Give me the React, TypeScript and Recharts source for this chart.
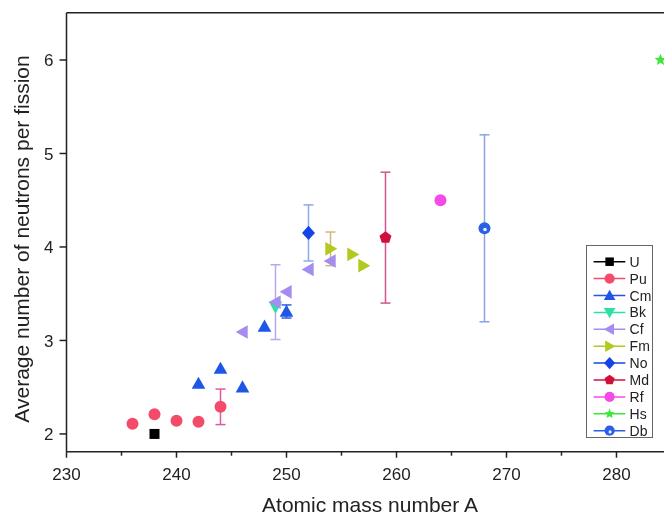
import React from 'react';
import { ScatterChart, Scatter, XAxis, YAxis, ErrorBar, Legend, ReferenceLine } from 'recharts';

// ---- data (A, average neutrons, optional error) ----
const uData = [{ a: 238, v: 2.0 }];
const puData = [
  { a: 236, v: 2.11 },
  { a: 238, v: 2.21 },
  { a: 240, v: 2.14 },
  { a: 242, v: 2.13 },
  { a: 244, v: 2.29, err: 0.19 },
];
const cmData = [
  { a: 242, v: 2.54 },
  { a: 244, v: 2.7 },
  { a: 246, v: 2.5 },
  { a: 248, v: 3.15 },
  { a: 250, v: 3.31, err: 0.07 },
];
const bkData = [{ a: 249, v: 3.36 }];
const cfData = [
  { a: 246, v: 3.09 },
  { a: 249, v: 3.41, err: 0.4 },
  { a: 250, v: 3.52 },
  { a: 252, v: 3.76 },
  { a: 254, v: 3.85 },
];
const fmData = [
  { a: 254, v: 3.98, err: 0.18 },
  { a: 256, v: 3.92 },
  { a: 257, v: 3.8 },
];
const noData = [{ a: 252, v: 4.15, err: 0.3 }];
const mdData = [{ a: 259, v: 4.1, err: 0.7 }];
const rfData = [{ a: 264, v: 4.5 }];
const hsData = [{ a: 284, v: 6.0 }];
const dbData = [{ a: 268, v: 4.2, err: 1.0 }];

const seriesNames = ['U', 'Pu', 'Cm', 'Bk', 'Cf', 'Fm', 'No', 'Md', 'Rf', 'Hs', 'Db'];
const xTicks = [230, 235, 240, 245, 250, 255, 260, 265, 270, 275, 280];
const yTicks = [2, 3, 4, 5, 6];

// ---- layout / style ----
const W = 656;
const H = 510;
const X_MIN = 230;
const X_MAX = 284.32;
const Y_MIN = 1.81;
const Y_MAX = 6.506;
const FONT = '"Liberation Sans", Arial, Helvetica, sans-serif';
const AX = '#222';

const styles: Record<string, { kind: string; color: string; size: number; err: string }> = {
  U: { kind: 'square', color: '#000000', size: 5, err: '#000000' },
  Pu: { kind: 'circle', color: '#f44b6b', size: 6, err: '#e0589e' },
  Cm: { kind: 'up', color: '#1e56e8', size: 6.5, err: '#3060e0' },
  Bk: { kind: 'down', color: '#2ee0a6', size: 6.5, err: '#2ee0a6' },
  Cf: { kind: 'left', color: '#a58cf0', size: 6.5, err: '#bca6f0' },
  Fm: { kind: 'right', color: '#b4c81e', size: 6.5, err: '#d0b878' },
  No: { kind: 'diamond', color: '#1544e6', size: 6.5, err: '#8ca8ec' },
  Md: { kind: 'pentagon', color: '#d0103c', size: 6.3, err: '#d2558e' },
  Rf: { kind: 'circle', color: '#f64ae6', size: 6, err: '#f64ae6' },
  Hs: { kind: 'star', color: '#3ee63e', size: 6.2, err: '#3ee63e' },
  Db: { kind: 'db', color: '#2a5fe8', size: 6, err: '#8aa2e6' },
};

const dataByName: Record<string, any[]> = {
  U: uData, Pu: puData, Cm: cmData, Bk: bkData, Cf: cfData, Fm: fmData,
  No: noData, Md: mdData, Rf: rfData, Hs: hsData, Db: dbData,
};

function pts(arr: number[][]) {
  return arr.map((p) => `${p[0]},${p[1]}`).join(' ');
}

function Marker({ kind, color, cx, cy, s }: { kind: string; color: string; cx: number; cy: number; s: number }) {
  switch (kind) {
    case 'square':
      return <rect x={cx - s} y={cy - s} width={2 * s} height={2 * s} fill={color} />;
    case 'circle':
      return <circle cx={cx} cy={cy} r={s} fill={color} />;
    case 'db':
      return (
        <g>
          <circle cx={cx} cy={cy} r={s} fill={color} />
          <circle cx={cx + 0.5} cy={cy + 1.2} r={s * 0.3} fill="#e8f0ff" />
        </g>
      );
    case 'up':
      return <polygon points={pts([[cx, cy - s * 1.05], [cx - s * 1.05, cy + s * 0.8], [cx + s * 1.05, cy + s * 0.8]])} fill={color} />;
    case 'down':
      return <polygon points={pts([[cx, cy + s * 1.05], [cx - s * 1.05, cy - s * 0.8], [cx + s * 1.05, cy - s * 0.8]])} fill={color} />;
    case 'left':
      return <polygon points={pts([[cx - s * 1.05, cy], [cx + s * 0.8, cy - s * 1.05], [cx + s * 0.8, cy + s * 1.05]])} fill={color} />;
    case 'right':
      return <polygon points={pts([[cx + s * 1.05, cy], [cx - s * 0.8, cy - s * 1.05], [cx - s * 0.8, cy + s * 1.05]])} fill={color} />;
    case 'diamond':
      return <polygon points={pts([[cx, cy - s * 1.1], [cx + s * 1.0, cy], [cx, cy + s * 1.1], [cx - s * 1.0, cy]])} fill={color} />;
    case 'pentagon': {
      const p: number[][] = [];
      for (let i = 0; i < 5; i++) {
        const ang = -Math.PI / 2 + (i * 2 * Math.PI) / 5;
        p.push([cx + s * Math.cos(ang), cy + s * Math.sin(ang)]);
      }
      return <polygon points={pts(p)} fill={color} />;
    }
    case 'star': {
      const p: number[][] = [];
      for (let i = 0; i < 10; i++) {
        const r = i % 2 === 0 ? s : s * 0.45;
        const ang = -Math.PI / 2 + (i * Math.PI) / 5;
        p.push([cx + r * Math.cos(ang), cy + r * Math.sin(ang)]);
      }
      return <polygon points={pts(p)} fill={color} />;
    }
    default:
      return null;
  }
}

const makeShape = (name: string) => (props: any) => {
  const st = styles[name];
  if (props.cx == null || props.cy == null) return <g />;
  return <Marker kind={st.kind} color={st.color} cx={props.cx} cy={props.cy} s={st.size} />;
};

const XTick = (props: any) => {
  const { x, y, payload } = props;
  const v = payload.value;
  const major = v % 10 === 0;
  return (
    <g>
      <line x1={x} x2={x} y1={y} y2={y + (major ? 6 : 4)} stroke={AX} strokeWidth={1.5} />
      {major && (
        <text x={x} y={y + 28} textAnchor="middle" fontSize={17} fontFamily={FONT} fill={AX}>
          {v}
        </text>
      )}
    </g>
  );
};

const YTick = (props: any) => {
  const { x, y, payload } = props;
  return (
    <g>
      <line x1={x - 7} x2={x} y1={y} y2={y} stroke={AX} strokeWidth={1.5} />
      <text x={x - 13} y={y} dy="0.36em" textAnchor="end" fontSize={17} fontFamily={FONT} fill={AX}>
        {payload.value}
      </text>
    </g>
  );
};

const XTitle = () => (
  <text x={362} y={504} textAnchor="middle" fontSize={21} fontFamily={FONT} fill={AX}>
    Atomic mass number A
  </text>
);

const YTitle = () => (
  <text
    x={13.5}
    y={231}
    transform="rotate(-90, 13.5, 231)"
    textAnchor="middle"
    dominantBaseline="central"
    fontSize={21}
    fontFamily={FONT}
    fill={AX}
  >
    Average number of neutrons per fission
  </text>
);

const LegendBox = () => {
  const bw = 67;
  const bh = 193;
  const rowH = 16.9;
  return (
    <svg width={bw} height={bh} style={{ display: 'block' }}>
      <rect x={0.5} y={0.5} width={bw - 1} height={bh - 1} fill="#fff" stroke="#666" strokeWidth={1} />
      {seriesNames.map((n, i) => {
        const st = styles[n];
        const cy = 16.7 + i * rowH;
        return (
          <g key={n}>
            <line x1={7.6} x2={39.3} y1={cy} y2={cy} stroke={st.color} strokeWidth={1.5} />
            <Marker kind={st.kind} color={st.color} cx={23.6} cy={cy} s={st.size * 0.85} />
            <text x={43.6} y={cy} dy="0.36em" fontSize={14} fontFamily={FONT} fill={AX}>
              {n}
            </text>
          </g>
        );
      })}
    </svg>
  );
};

export default function App() {
  return (
    <div style={{ position: 'fixed', left: 8, top: 8, width: W, height: H }}>
      <ScatterChart width={W} height={H} margin={{ top: 4.7, right: 0, bottom: 26.3, left: 0 }}>
        <XAxis
          dataKey="a"
          type="number"
          domain={[X_MIN, X_MAX]}
          ticks={xTicks}
          interval={0}
          height={40}
          tickSize={0}
          tickMargin={0}
          tickLine={false}
          tick={<XTick />}
          axisLine={{ stroke: AX, strokeWidth: 1.5 }}
          label={<XTitle />}
        />
        <YAxis
          dataKey="v"
          type="number"
          domain={[Y_MIN, Y_MAX]}
          ticks={yTicks}
          interval={0}
          width={58.5}
          tickSize={0}
          tickMargin={0}
          tickLine={false}
          tick={<YTick />}
          axisLine={{ stroke: AX, strokeWidth: 1.5 }}
          label={<YTitle />}
        />
        <ReferenceLine y={Y_MAX} stroke={AX} strokeWidth={1.5} ifOverflow="visible" />
        {seriesNames.map((n) => (
          <Scatter
            key={n}
            name={n}
            data={dataByName[n]}
            dataKey="v"
            isAnimationActive={false}
            shape={makeShape(n)}
          >
            <ErrorBar dataKey="err" direction="y" width={5} stroke={styles[n].err} strokeWidth={1.5} />
          </Scatter>
        ))}
        <Legend
          layout="vertical"
          align="center"
          verticalAlign="middle"
          content={<LegendBox />}
          wrapperStyle={{ left: 577.7, top: 237, width: 67, height: 193 }}
        />
      </ScatterChart>
    </div>
  );
}
